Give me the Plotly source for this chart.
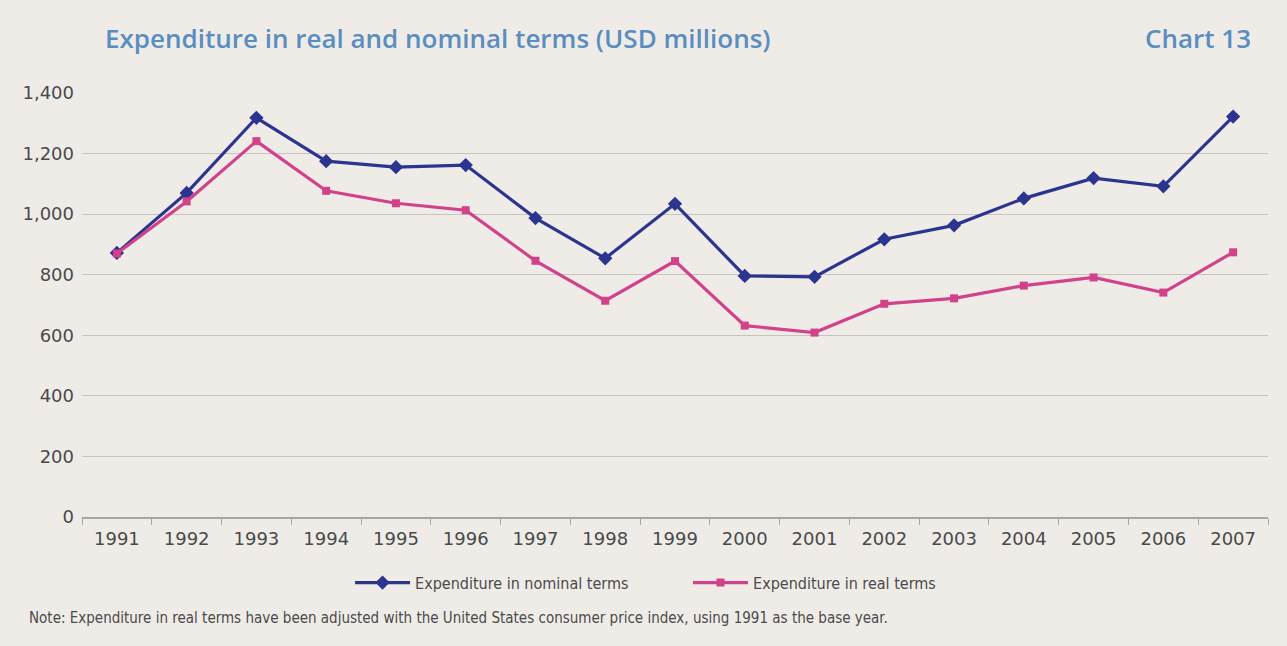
import plotly.graph_objects as go

# Annual expenditure, USD millions
years = ["1991", "1992", "1993", "1994", "1995", "1996", "1997", "1998", "1999",
         "2000", "2001", "2002", "2003", "2004", "2005", "2006", "2007"]
nominal = [872, 1070, 1318, 1175, 1155, 1162, 987, 854, 1034,
           796, 793, 917, 963, 1052, 1119, 1092, 1322]
real = [870, 1042, 1241, 1077, 1036, 1013, 846, 714, 845,
        632, 609, 704, 722, 764, 791, 741, 874]

y_ticks = [0, 200, 400, 600, 800, 1000, 1200, 1400]

BG = "#efece8"
NAVY = "#2b3590"
PINK = "#d2428a"
TITLE_BLUE = "#5a8dc0"
TEXT = "#4a4a4a"
SMALL_FONT = "DejaVu Sans Condensed, Liberation Sans Narrow, Liberation Sans"

fig = go.Figure()
fig.add_trace(go.Scatter(
    x=years, y=nominal, name="Expenditure in nominal terms",
    mode="lines+markers",
    line=dict(color=NAVY, width=3.2),
    marker=dict(symbol="diamond", size=11, color=NAVY),
))
fig.add_trace(go.Scatter(
    x=years, y=real, name="Expenditure in real terms",
    mode="lines+markers",
    line=dict(color=PINK, width=3.2),
    marker=dict(symbol="square", size=8, color=PINK),
))

fig.update_layout(
    width=1287, height=646,
    margin=dict(l=82, r=19, t=93, b=129),
    paper_bgcolor=BG, plot_bgcolor=BG,
    showlegend=True,
    legend=dict(
        orientation="h", x=0.226, xanchor="left", y=-0.155, yanchor="middle",
        font=dict(family=SMALL_FONT, size=16, color=TEXT),
        itemwidth=55, entrywidth=268, bgcolor="rgba(0,0,0,0)",
    ),
    xaxis=dict(
        type="category", range=[-0.5, len(years) - 0.5],
        tickson="boundaries", ticks="outside", ticklen=6,
        tickcolor="#a9a5a0", showline=True, linecolor="#a9a5a0", linewidth=1.5,
        showgrid=False, zeroline=False, ticklabelstandoff=5,
        tickfont=dict(family="DejaVu Sans", size=18, color=TEXT),
    ),
    yaxis=dict(
        range=[0, 1400], tickvals=y_ticks, tickformat=",",
        showgrid=True, gridcolor="#c7c3bd", gridwidth=1,
        zeroline=False, showline=False, ticks="", ticklabelstandoff=7,
        tickfont=dict(family="DejaVu Sans", size=18, color=TEXT),
    ),
    annotations=[
        dict(text="Expenditure in real and nominal terms (USD millions)",
             xref="paper", yref="paper", x=0.0177, y=1.13,
             xanchor="left", yanchor="middle", showarrow=False,
             font=dict(family="Open Sans", size=26, color=TITLE_BLUE, weight=600)),
        dict(text="Chart 13",
             xref="paper", yref="paper", x=0.9874, y=1.13,
             xanchor="right", yanchor="middle", showarrow=False,
             font=dict(family="Open Sans", size=26, color=TITLE_BLUE, weight=600)),
        dict(text="Note: Expenditure in real terms have been adjusted with the United States consumer price index, using 1991 as the base year.",
             xref="paper", yref="paper", x=-0.0464, y=-0.238,
             xanchor="left", yanchor="middle", showarrow=False,
             font=dict(family=SMALL_FONT, size=15, color=TEXT)),
    ],
)

fig.write_html("out.html")
